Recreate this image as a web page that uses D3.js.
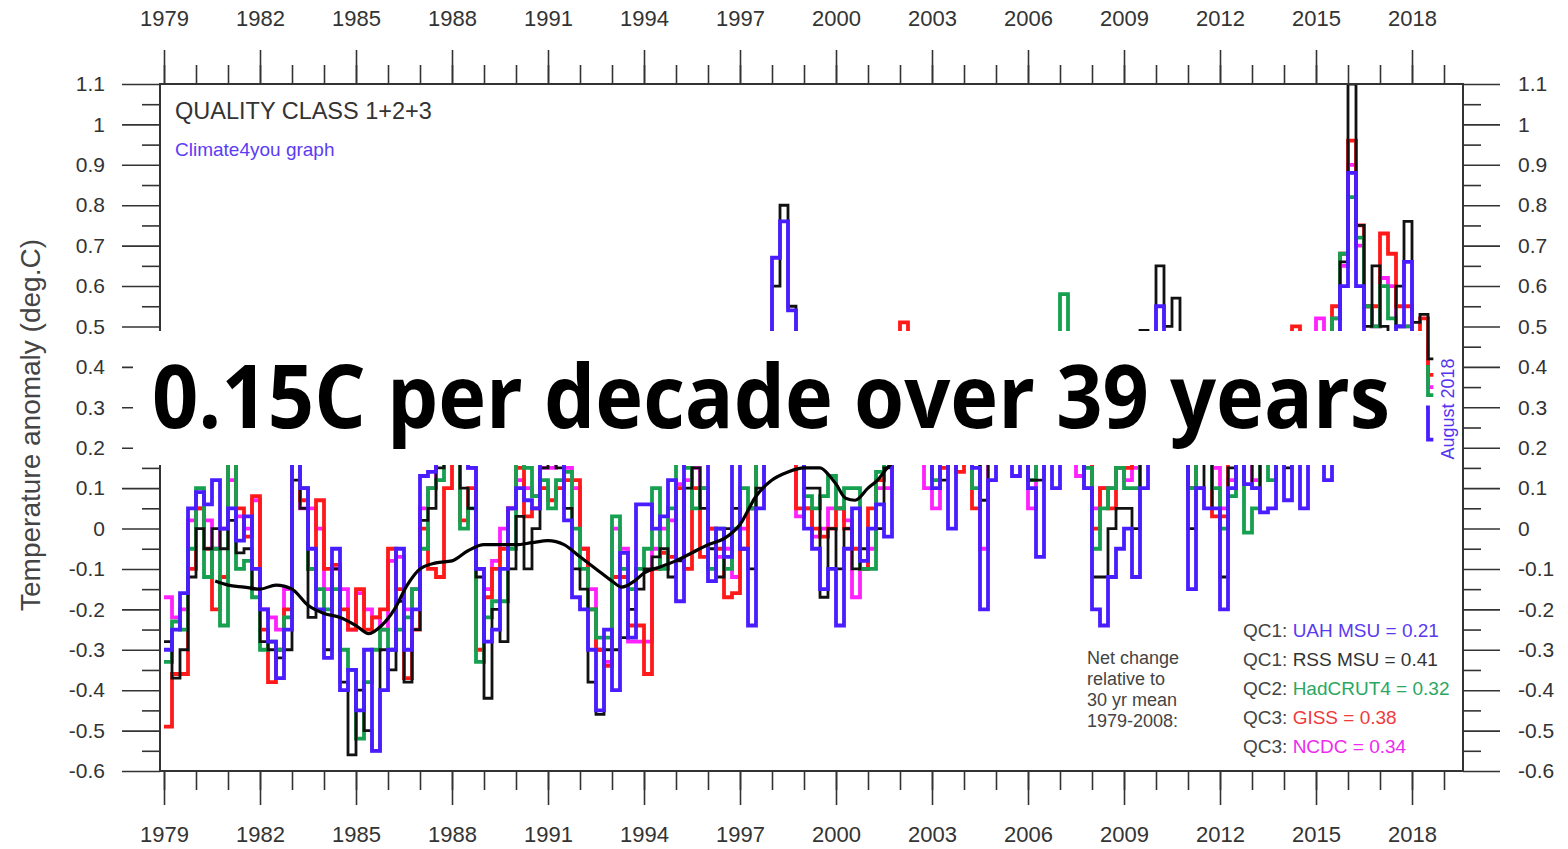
<!DOCTYPE html>
<html>
<head>
<meta charset="utf-8">
<script src="https://cdn.jsdelivr.net/npm/d3@7"></script>
<style>
  body { margin: 0; background: #fff; }
  text { font-family: "Liberation Sans", Arial, sans-serif; }
</style>
</head>
<body>
<svg id="chart" width="1568" height="849"></svg>
<script>
// quarterly anomalies (deg.C), first quarter = 1979 Q1, last = Jul-Aug 2018
var startYear = 1979
var endYear = 2018 + 8/12

var uah = [
  -0.30,-0.25,-0.16, 0.05,   0.09, 0.06, 0.12, 0.00,   0.05,-0.03, 0.03,-0.10,   -0.20,-0.28,-0.37,-0.25,
   0.18, 0.10,-0.05,-0.20,  -0.32,-0.05,-0.40,-0.35,  -0.45,-0.30,-0.55,-0.40,   -0.30,-0.05,-0.30,-0.20,
   0.13, 0.14, 0.20, 0.25,   0.30, 0.20, 0.15,-0.10,  -0.28,-0.25,-0.10, 0.05,    0.10, 0.07, 0.05, 0.20,
   0.25, 0.20, 0.02,-0.17,  -0.20,-0.30,-0.45,-0.25,  -0.40,-0.06,-0.27, 0.06,    0.06, 0.00, 0.03, 0.12,
  -0.18, 0.20, 0.25, 0.20,  -0.13, 0.00,-0.07, 0.20,  -0.05,-0.24, 0.05, 0.20,    0.67, 0.76, 0.54, 0.30,
   0.00,-0.05,-0.15,-0.10,  -0.24,-0.05, 0.05,-0.08,   0.00, 0.06,-0.02, 0.20,    0.30, 0.20, 0.20, 0.25,
   0.10, 0.20, 0.00, 0.30,   0.25, 0.15,-0.20, 0.12,   0.30, 0.25, 0.13, 0.30,    0.10,-0.07, 0.20, 0.10,
   0.30, 0.20, 0.20, 0.10,  -0.20,-0.24,-0.12,-0.05,   0.00,-0.12, 0.10, 0.30,    0.55, 0.45, 0.40, 0.20,
  -0.15, 0.10, 0.05, 0.05,  -0.20, 0.10, 0.20, 0.11,   0.10, 0.04, 0.05, 0.20,    0.07, 0.20, 0.05, 0.20,
   0.20, 0.12, 0.35, 0.60,   0.88, 0.60, 0.42, 0.35,   0.35, 0.30, 0.50, 0.66,    0.30, 0.30, 0.22
]
var rss = [
  -0.28,-0.37,-0.30,-0.12,   0.00,-0.05, 0.00,-0.05,   0.02,-0.06,-0.05,-0.15,   -0.28,-0.30,-0.32,-0.30,
   0.12, 0.05,-0.22,-0.20,  -0.30,-0.10,-0.38,-0.56,  -0.40,-0.50,-0.55,-0.30,   -0.35,-0.18,-0.38,-0.25,
   0.02, 0.05, 0.15, 0.18,   0.25, 0.10, 0.05,-0.12,  -0.42,-0.20,-0.28,-0.10,    0.03,-0.10, 0.00, 0.15,
   0.20, 0.15, 0.05,-0.10,  -0.15,-0.38,-0.46,-0.30,  -0.30,-0.27,-0.20,-0.15,   -0.10,-0.07,-0.05,-0.12,
  -0.08, 0.10, 0.15, 0.05,  -0.05,-0.12, 0.00, 0.05,  -0.05,-0.10, 0.10, 0.25,    0.60, 0.80, 0.55, 0.35,
   0.10, 0.10,-0.17, 0.00,  -0.10, 0.00,-0.10,-0.05,   0.00, 0.00, 0.15, 0.20,    0.30, 0.25, 0.25, 0.30,
   0.20, 0.12, 0.25, 0.30,   0.25, 0.20, 0.07, 0.20,   0.30, 0.30, 0.35, 0.35,    0.12, 0.12, 0.25, 0.30,
   0.35, 0.25, 0.20, 0.10,  -0.12,-0.12, 0.00, 0.05,   0.05, 0.00, 0.49, 0.30,    0.65, 0.50, 0.57, 0.30,
   0.00, 0.10, 0.20, 0.05,  -0.12, 0.15, 0.25, 0.20,   0.10, 0.20, 0.20, 0.25,    0.15, 0.20, 0.20, 0.25,
   0.30, 0.30, 0.45, 0.66,   1.10, 0.75, 0.50, 0.65,   0.50, 0.45, 0.60, 0.76,    0.51, 0.53, 0.42
]
var hadcrut = [
  -0.33,-0.23,-0.25,-0.05,   0.10,-0.12,-0.05,-0.24,   0.20,-0.10,-0.08,-0.17,   -0.30,-0.28,-0.30,-0.22,
   0.25, 0.10,-0.10,-0.15,  -0.20,-0.15,-0.30,-0.35,  -0.52,-0.38,-0.30,-0.25,   -0.30,-0.25,-0.22,-0.15,
  -0.05, 0.10, 0.12, 0.20,   0.20, 0.00, 0.05,-0.33,  -0.22,-0.18,-0.18,-0.05,    0.20, 0.15, 0.08, 0.12,
   0.05, 0.12, 0.14, 0.00,  -0.10,-0.20,-0.27,-0.27,   0.03,-0.10,-0.15,-0.10,   -0.05, 0.10,-0.10, 0.05,
   0.20, 0.15, 0.05, 0.10,  -0.10, 0.00,-0.10, 0.00,   0.10, 0.05, 0.20, 0.30,    0.45, 0.48, 0.45, 0.30,
   0.08, 0.05, 0.08, 0.13,   0.05, 0.10, 0.10,-0.10,  -0.10, 0.14, 0.20, 0.25,    0.40, 0.30, 0.25, 0.20,
   0.12, 0.20, 0.25, 0.30,   0.25, 0.10, 0.20, 0.25,   0.30, 0.30, 0.30, 0.35,    0.12, 0.20, 0.25, 0.30,
   0.58, 0.30, 0.25, 0.15,  -0.05, 0.05, 0.10, 0.15,   0.10, 0.10, 0.30, 0.30,    0.45, 0.40, 0.40, 0.25,
   0.10, 0.20, 0.25, 0.10,   0.00, 0.08, 0.25,-0.01,   0.05, 0.20, 0.12, 0.30,    0.20, 0.30, 0.30, 0.35,
   0.40, 0.45, 0.52, 0.68,   0.82, 0.72, 0.55, 0.50,   0.60, 0.52, 0.50, 0.50,    0.40, 0.40, 0.33
]
var giss = [
  -0.49,-0.36,-0.36,-0.10,   0.05,-0.05,-0.20,-0.12,   0.25, 0.05,-0.02, 0.08,   -0.25,-0.38,-0.30,-0.20,
   0.20, 0.07,-0.10, 0.07,  -0.10,-0.09,-0.20,-0.25,  -0.15,-0.25,-0.22,-0.20,   -0.05,-0.15,-0.37,-0.25,
   0.00,-0.10,-0.12, 0.10,   0.25, 0.02, 0.10,-0.30,  -0.17,-0.10,-0.05, 0.05,    0.15, 0.03, 0.05, 0.10,
   0.07, 0.10, 0.12, 0.12,  -0.05,-0.20,-0.30,-0.34,  -0.12,-0.12,-0.24,-0.24,   -0.36,-0.10,-0.06,-0.07,
   0.10,-0.10, 0.10,-0.07,   0.00,-0.05,-0.17,-0.16,  -0.05, 0.05, 0.18, 0.25,    0.40, 0.45, 0.40, 0.05,
   0.05, 0.00,-0.02, 0.00,   0.05, 0.00,-0.05,-0.10,   0.05, 0.12, 0.20, 0.25,    0.51, 0.30, 0.25, 0.25,
   0.30, 0.15, 0.25, 0.14,   0.30, 0.05, 0.20, 0.30,   0.35, 0.30, 0.30, 0.40,    0.20, 0.25, 0.25, 0.35,
   0.45, 0.30, 0.28, 0.20,   0.00, 0.10, 0.05, 0.15,   0.15, 0.20, 0.35, 0.40,    0.48, 0.45, 0.35, 0.30,
   0.10, 0.25, 0.20, 0.03,   0.03, 0.20, 0.30, 0.25,   0.20, 0.25, 0.25, 0.35,    0.25, 0.50, 0.35, 0.40,
   0.45, 0.48, 0.55, 0.68,   0.96, 0.75, 0.55, 0.55,   0.73, 0.68, 0.55, 0.55,    0.45, 0.52, 0.38
]
var ncdc = [
  -0.17,-0.22,-0.20, 0.02,   0.05, 0.02,-0.05, 0.00,   0.12, 0.03, 0.00, 0.07,   -0.20,-0.22,-0.25,-0.15,
   0.20, 0.05, 0.05, 0.00,  -0.15,-0.10,-0.15,-0.25,  -0.16,-0.20,-0.22,-0.25,   -0.08,-0.07,-0.20,-0.15,
   0.05, 0.10, 0.17, 0.20,   0.22, 0.18, 0.15,-0.10,  -0.15,-0.08, 0.00, 0.05,    0.12, 0.10, 0.08, 0.15,
   0.15, 0.18, 0.15, 0.10,  -0.05,-0.15,-0.30,-0.33,   0.00,-0.05,-0.28,-0.28,   -0.28,-0.05, 0.00, 0.02,
   0.11, 0.12, 0.15, 0.10,   0.00,-0.07,-0.05,-0.12,   0.00, 0.05, 0.20, 0.28,    0.45, 0.48, 0.42, 0.03,
   0.05,-0.02, 0.00, 0.05,   0.05, 0.02,-0.17,-0.10,  -0.05, 0.10, 0.10, 0.25,    0.40, 0.28, 0.20, 0.10,
   0.05, 0.20, 0.20, 0.25,   0.30, 0.20,-0.05, 0.25,   0.35, 0.30, 0.30, 0.35,    0.05, 0.20, 0.25, 0.30,
   0.45, 0.30, 0.13, 0.20,   0.05, 0.10, 0.10, 0.15,   0.12, 0.15, 0.35, 0.35,    0.48, 0.45, 0.40, 0.30,
   0.10, 0.20, 0.20, 0.15,   0.05, 0.12, 0.30, 0.25,   0.12, 0.25, 0.25, 0.30,    0.25, 0.40, 0.35, 0.40,
   0.52, 0.45, 0.52, 0.65,   0.90, 0.70, 0.55, 0.50,   0.62, 0.60, 0.50, 0.50,    0.42, 0.45, 0.35
]

// running mean drawn as the thick black curve
var smoothYears = [1980.6,1981.0,1981.5,1982.0,1982.5,1983.0,1983.5,1984.0,1984.5,1985.0,1985.4,1985.8,1986.2,1986.6,1987.0,
  1987.5,1988.0,1988.5,1989.0,1989.5,1990.0,1990.5,1991.0,1991.5,1992.0,1992.5,1993.0,1993.3,1993.7,1994.0,
  1994.5,1995.0,1995.5,1996.0,1996.5,1997.0,1997.5,1998.0,1998.5,1999.0,1999.5,1999.8,2000.0,2000.3,2000.6,
  2001.0,2001.3,2001.6,2002.0,2003.0,2004.0,2005.0,2006.0,2007.0,2008.0,2009.0,2010.0,2011.0,2012.0,2013.0,
  2014.0,2015.0,2016.0,2016.5,2017.0]
var smoothVals = [-0.13,-0.14,-0.145,-0.15,-0.14,-0.15,-0.19,-0.21,-0.22,-0.24,-0.26,-0.24,-0.20,-0.14,-0.10,
  -0.085,-0.08,-0.055,-0.04,-0.04,-0.04,-0.035,-0.03,-0.04,-0.07,-0.10,-0.13,-0.145,-0.13,-0.11,
  -0.095,-0.08,-0.06,-0.04,-0.025,0.01,0.08,0.12,0.14,0.15,0.15,0.13,0.11,0.075,0.07,
  0.10,0.12,0.15,0.18,0.22,0.25,0.27,0.28,0.29,0.25,0.24,0.30,0.28,0.25,0.27,
  0.30,0.38,0.45,0.46,0.47]

var majorYears = [1979,1982,1985,1988,1991,1994,1997,2000,2003,2006,2009,2012,2015,2018]
var minorYears = d3.range(1979, 2020)
var yMajor = d3.range(-6, 12).map(function(i){ return i/10 })
var yMinor = d3.range(-6, 11).map(function(i){ return i/10 + 0.05 })

var legendNames = ["QC1: ", "QC1: ", "QC2: ", "QC3: ", "QC3: "]
var legendLabels = ["UAH MSU = 0.21", "RSS MSU = 0.41", "HadCRUT4 = 0.32", "GISS = 0.38", "NCDC = 0.34"]
var legendColors = ["#5a3af0", "#333333", "#2aa862", "#f03a3a", "#ee2aee"]
var netChange = ["Net change", "relative to", "30 yr mean", "1979-2008:"]

var svg = d3.select("#chart")
var plotL = 160, plotR = 1463, plotT = 84, plotB = 771

var x = d3.scaleLinear().domain([1979, 2018]).range([164, 1412])
var y = d3.scaleLinear().domain([-0.6, 1.1]).range([plotB, plotT])

svg.append("clipPath").attr("id", "plotclip")
   .append("rect")
   .attr("x", plotL).attr("y", plotT)
   .attr("width", plotR - plotL).attr("height", plotB - plotT)

// monthly style step lines, drawn back to front
var series = [
  {vals: ncdc, color: "#ff22ff", w: 3.8},
  {vals: giss, color: "#ff1a1a", w: 3.8},
  {vals: hadcrut, color: "#16a050", w: 3.8},
  {vals: rss, color: "#111111", w: 2.8},
  {vals: uah, color: "#4a1dff", w: 3.8}
]
var step = d3.line()
             .x(function(d){ return x(d[0]) })
             .y(function(d){ return y(d[1]) })
             .curve(d3.curveStepAfter)

var plot = svg.append("g").attr("clip-path", "url(#plotclip)")
series.forEach(function(s){
  var pts = s.vals.map(function(v, i){ return [startYear + i*0.25, v] })
  pts.push([endYear, s.vals[s.vals.length-1]])
  plot.append("path")
      .attr("d", step(pts))
      .attr("fill", "none")
      .attr("stroke", s.color)
      .attr("stroke-width", s.w)
})

plot.append("path")
    .attr("d", d3.line()
                 .x(function(d, i){ return x(smoothYears[i]) })
                 .y(function(d){ return y(d) })
                 .curve(d3.curveMonotoneX)(smoothVals))
    .attr("fill", "none")
    .attr("stroke", "#000")
    .attr("stroke-width", 3.2)

// frame
svg.append("rect")
   .attr("x", plotL).attr("y", plotT)
   .attr("width", plotR - plotL).attr("height", plotB - plotT)
   .attr("fill", "none").attr("stroke", "#333").attr("stroke-width", 2)

function styleAxis(g){
  g.select(".domain").remove()
  g.selectAll(".tick line").attr("stroke", "#333").attr("stroke-width", 1.6)
  g.selectAll(".tick text").attr("fill", "#333")
}

// x axes, top and bottom
svg.append("g").attr("transform", "translate(0," + plotT + ")")
   .call(d3.axisTop(x).tickValues(minorYears).tickSize(19).tickFormat(""))
   .call(styleAxis)
svg.append("g").attr("transform", "translate(0," + plotT + ")")
   .call(d3.axisTop(x).tickValues(majorYears).tickSize(34).tickPadding(24).tickFormat(d3.format("d")))
   .call(styleAxis)
   .selectAll("text").attr("font-size", 22)
svg.append("g").attr("transform", "translate(0," + plotB + ")")
   .call(d3.axisBottom(x).tickValues(minorYears).tickSize(19).tickFormat(""))
   .call(styleAxis)
svg.append("g").attr("transform", "translate(0," + plotB + ")")
   .call(d3.axisBottom(x).tickValues(majorYears).tickSize(34).tickPadding(21).tickFormat(d3.format("d")))
   .call(styleAxis)
   .selectAll("text").attr("font-size", 22)

// y axes, left and right
var yfmt = function(v){ return String(+v.toFixed(1)) }
svg.append("g").attr("transform", "translate(" + plotL + ",0)")
   .call(d3.axisLeft(y).tickValues(yMinor).tickSize(18).tickFormat(""))
   .call(styleAxis)
svg.append("g").attr("transform", "translate(" + plotL + ",0)")
   .call(d3.axisLeft(y).tickValues(yMajor).tickSize(38).tickPadding(17).tickFormat(yfmt))
   .call(styleAxis)
   .selectAll("text").attr("font-size", 21)
svg.append("g").attr("transform", "translate(" + plotR + ",0)")
   .call(d3.axisRight(y).tickValues(yMinor).tickSize(18).tickFormat(""))
   .call(styleAxis)
svg.append("g").attr("transform", "translate(" + plotR + ",0)")
   .call(d3.axisRight(y).tickValues(yMajor).tickSize(37).tickPadding(18).tickFormat(yfmt))
   .call(styleAxis)
   .selectAll("text").attr("font-size", 21)

svg.append("text")
   .attr("transform", "translate(40,425) rotate(-90)")
   .attr("text-anchor", "middle")
   .attr("font-size", 28)
   .attr("fill", "#444")
   .text("Temperature anomaly (deg.C)")

svg.append("text")
   .attr("x", 175).attr("y", 119)
   .attr("font-size", 23.5).attr("fill", "#333")
   .text("QUALITY CLASS 1+2+3")
svg.append("text")
   .attr("x", 175).attr("y", 156)
   .attr("font-size", 19).attr("fill", "#5b3cf5")
   .text("Climate4you graph")

svg.append("text")
   .attr("transform", "translate(1454,409) rotate(-90)")
   .attr("text-anchor", "middle")
   .attr("font-size", 18).attr("fill", "#5533ee")
   .text("August 2018")

// legend
svg.selectAll(".net")
   .data(netChange)
   .enter().append("text")
   .attr("class", "net")
   .attr("x", 1087)
   .attr("y", function(d, i){ return 664 + i*21 })
   .attr("font-size", 18).attr("fill", "#444")
   .text(function(d){ return d })

var leg = svg.selectAll(".leg")
   .data(legendLabels)
   .enter().append("text")
   .attr("class", "leg")
   .attr("x", 1243)
   .attr("y", function(d, i){ return 637 + i*29 })
   .attr("font-size", 19)
leg.append("tspan").attr("fill", "#444").text(function(d, i){ return legendNames[i] })
leg.append("tspan").attr("fill", function(d, i){ return legendColors[i] }).text(function(d){ return d })

// white banner over the middle of the chart
svg.append("rect")
   .attr("x", 133).attr("y", 331)
   .attr("width", 1293).attr("height", 134)
   .attr("fill", "#fff")
svg.append("text")
   .attr("x", 152).attr("y", 428)
   .style("font-family", "'Open Sans', 'DejaVu Sans', sans-serif")
   .attr("font-weight", 700)
   .attr("font-size", 88)
   .attr("textLength", 1238)
   .attr("lengthAdjust", "spacingAndGlyphs")
   .attr("fill", "#000")
   .text("0.15C per decade over 39 years")
</script>
</body>
</html>
